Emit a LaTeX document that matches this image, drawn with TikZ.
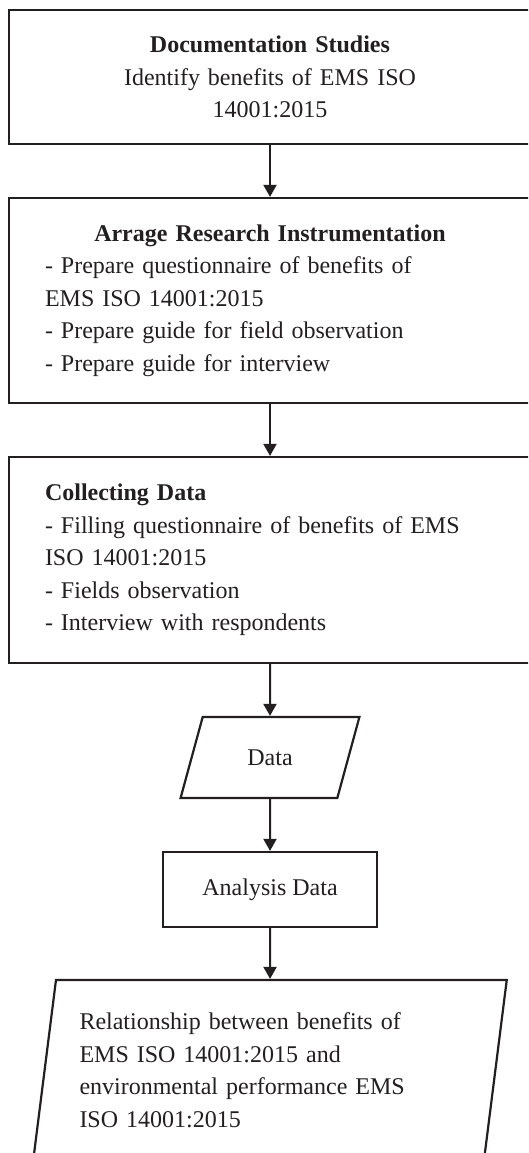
\documentclass[tikz,border=0pt]{standalone}
\usepackage{fontspec}
\setmainfont{Liberation Serif}
\usetikzlibrary{arrows.meta,shapes.geometric}
\definecolor{ink}{HTML}{231F20}
\tikzset{
  stage/.style={draw=ink,line width=2.2pt,minimum width=522pt,text width=450pt,inner sep=0pt},
  iobox/.style={draw=ink,line width=2.2pt,trapezium,trapezium stretches=true,inner sep=0pt},
  flow/.style={draw=ink,line width=2pt,-{Triangle[width=13pt,length=12pt]}}
}
\begin{document}
\begin{tikzpicture}[x=1pt,y=-1pt,font=\fontsize{24}{32.5}\selectfont,text=ink]
\useasboundingbox (0,0) rectangle (528,1153);
\clip (0,0) rectangle (528,1153);
\node[stage,align=center,minimum height=134pt] (docs) at (270,77)
  {\textbf{Documentation Studies}\\Identify benefits of EMS ISO\\14001:2015};
\node[stage,align=left,minimum height=205pt] (instr) at (270,300.5)
  {\hfill\textbf{Arrage Research Instrumentation}\hfill\null\\
   - Prepare questionnaire of benefits of\\EMS ISO 14001:2015\\
   - Prepare guide for field observation\\- Prepare guide for interview};
\node[stage,align=left,minimum height=206pt] (collect) at (270,560)
  {\textbf{Collecting Data}\\- Filling questionnaire of benefits of EMS\\
   ISO 14001:2015\\- Fields observation\\- Interview with respondents};
\node[iobox,minimum width=179pt,minimum height=81pt,
  trapezium left angle=65,trapezium right angle=115] (data) at (270,757.5) {Data};
\node[draw=ink,line width=2.2pt,minimum width=214pt,minimum height=75pt] (analysis) at (270,889.5) {Analysis Data};
\node[iobox,minimum width=475pt,minimum height=180pt,text width=381pt,align=left,
  trapezium left angle=80,trapezium right angle=100] (result) at (270,1070)
  {Relationship between benefits of\\EMS ISO 14001:2015 and\\
   environmental performance EMS\\ISO 14001:2015};
\draw[flow] (docs) -- (instr);
\draw[flow] (instr) -- (collect);
\draw[flow] (collect) -- (data);
\draw[flow] (data) -- (analysis);
\draw[flow] (analysis) -- (result);
\end{tikzpicture}
\end{document}
